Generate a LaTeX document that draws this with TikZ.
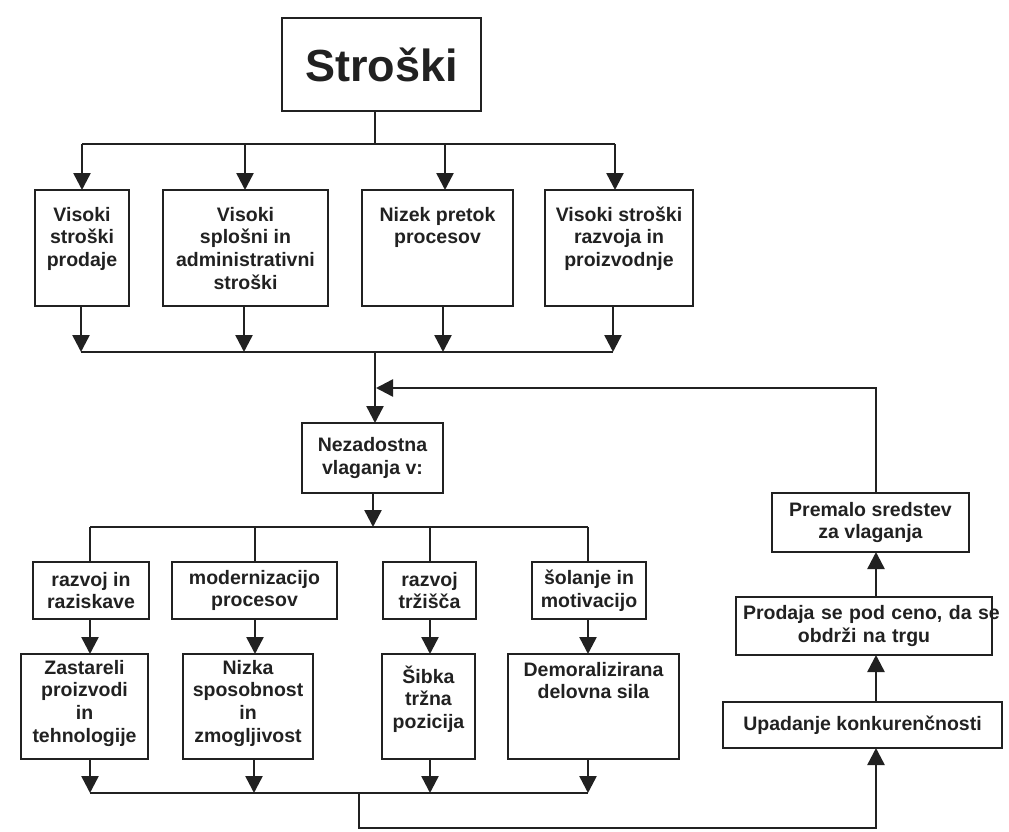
\documentclass[tikz,border=0pt]{standalone}
\usepackage{fontspec}
\setmainfont{Liberation Sans}
\usetikzlibrary{arrows.meta}
\definecolor{ink}{gray}{0.13}
\newcommand\txtfont{\fontsize{19.5}{22.7}\selectfont\bfseries}
\newcommand\lnstrut{\rule{0pt}{19pt}}
\begin{document}
\begin{tikzpicture}[x=1pt,y=-1pt,
  box/.style={draw=ink, line width=2.5pt, inner sep=0pt, outer sep=0pt,
    align=center, text=ink, font=\txtfont},
  txt/.style={inner sep=0pt, align=center, text=ink, font=\txtfont, anchor=north},
  link/.style={draw=ink, line width=2.5pt},
  arr/.style={link, -{Triangle[length=17pt,width=17pt]}},
]
\useasboundingbox (0,0) rectangle (1009,832);

% title
\node[box, minimum width=199pt, minimum height=93pt,
  font=\fontsize{45}{50}\selectfont\bfseries] (S) at (381.5,64.5) {Stroški};

% cost boxes
\node[box, minimum width=94pt, minimum height=116pt,
  label={[txt,yshift=-12pt]north:{\lnstrut Visoki\\stroški\\prodaje}}] (c1) at (82,248) {};
\node[box, minimum width=165pt, minimum height=116pt,
  label={[txt,yshift=-12pt]north:{\lnstrut Visoki\\splošni in\\administrativni\\stroški}}] (c2) at (245.5,248) {};
\node[box, minimum width=151pt, minimum height=116pt,
  label={[txt,yshift=-12pt]north:{\lnstrut Nizek pretok\\procesov}}] (c3) at (437.5,248) {};
\node[box, minimum width=148pt, minimum height=116pt,
  label={[txt,yshift=-12pt]north:{\lnstrut Visoki stroški\\razvoja in\\proizvodnje}}] (c4) at (619,248) {};

% insufficient investment
\node[box, minimum width=141pt, minimum height=70pt] (N) at (372.5,458) {Nezadostna\\vlaganja v:};

% investment areas
\node[box, minimum width=116pt, minimum height=57pt] (r1) at (91,590.5) {razvoj in\\raziskave};
\node[box, minimum width=165pt, minimum height=57pt] (r2) at (254.5,590.5) {modernizacijo\\procesov};
\node[box, minimum width=93pt, minimum height=57pt] (r3) at (429.5,590.5) {razvoj\\tržišča};
\node[box, minimum width=114pt, minimum height=57pt] (r4) at (589,590.5) {šolanje in\\motivacijo};

% consequences
\node[box, minimum width=127pt, minimum height=105pt,
  label={[txt,yshift=-1pt]north:{\lnstrut Zastareli\\proizvodi\\in\\tehnologije}}] (z1) at (84.5,706.5) {};
\node[box, minimum width=130pt, minimum height=105pt,
  label={[txt,yshift=-1pt]north:{\lnstrut Nizka\\sposobnost\\in\\zmogljivost}}] (z2) at (248,706.5) {};
\node[box, minimum width=93pt, minimum height=105pt,
  label={[txt,yshift=-10pt]north:{\lnstrut Šibka\\tržna\\pozicija}}] (z3) at (428.5,706.5) {};
\node[box, minimum width=171pt, minimum height=105pt,
  label={[txt,yshift=-3pt]north:{\lnstrut Demoralizirana\\delovna sila}}] (z4) at (593.5,706.5) {};

% feedback chain
\node[box, minimum width=279pt, minimum height=46pt] (U) at (862.5,725) {Upadanje konkurenčnosti};
\node[box, text width=242pt, inner xsep=7pt, minimum height=58pt] (P) at (864,626)
  {\mbox{Prodaja se pod ceno, da se}\\obdrži na trgu};
\node[box, minimum width=197pt, minimum height=59pt] (M) at (870.5,522.5) {Premalo sredstev\\za vlaganja};

% bus from title to cost boxes
\coordinate (t0) at (375,144);
\coordinate (d1) at (82,144);
\coordinate (d2) at (245,144);
\coordinate (d3) at (445,144);
\coordinate (d4) at (615,144);
\draw[link] ([xshift=-6.5pt]S.south) -- (t0);
\draw[link] (d1) -- (d4);
\foreach \i in {1,...,4} \draw[arr] (d\i) -- (d\i |- c\i.north);

% bus from cost boxes to insufficient investment
\coordinate (e1) at (81,352);
\coordinate (e2) at (244,352);
\coordinate (e3) at (443,352);
\coordinate (e4) at (613,352);
\coordinate (m0) at (375,352);
\foreach \i in {1,...,4} \draw[arr] (e\i |- c\i.south) -- (e\i);
\draw[link] (e1) -- (e4);
\draw[arr] (m0) -- (m0 |- N.north);

% bus to investment areas
\coordinate (n0) at (373,527);
\coordinate (g1) at (90,527);
\coordinate (g2) at (255,527);
\coordinate (g3) at (430,527);
\coordinate (g4) at (588,527);
\draw[arr] (n0 |- N.south) -- (n0);
\draw[link] (g1) -- (g4);
\foreach \i in {1,...,4} {
  \draw[link] (g\i) -- (g\i |- r\i.north);
  \draw[arr] (g\i |- r\i.south) -- (g\i |- z\i.north);
}

% bus from consequences to loss of competitiveness
\coordinate (h1) at (90,793);
\coordinate (h2) at (254,793);
\coordinate (h3) at (430,793);
\coordinate (h4) at (588,793);
\coordinate (b0) at (359,793);
\coordinate (b1) at (359,828);
\coordinate (k) at (876,828);
\foreach \i in {1,...,4} \draw[arr] (h\i |- z\i.south) -- (h\i);
\draw[link] (h1) -- (h4);
\draw[arr] (b0) -- (b1) -- (k) -- (k |- U.south);
\draw[arr] (k |- U.north) -- (k |- P.south);
\draw[arr] (k |- P.north) -- (k |- M.south);

% feedback into investment
\coordinate (fb) at (376,388);
\draw[arr] (k |- M.north) -- (k |- fb) -- (fb);
\end{tikzpicture}
\end{document}
